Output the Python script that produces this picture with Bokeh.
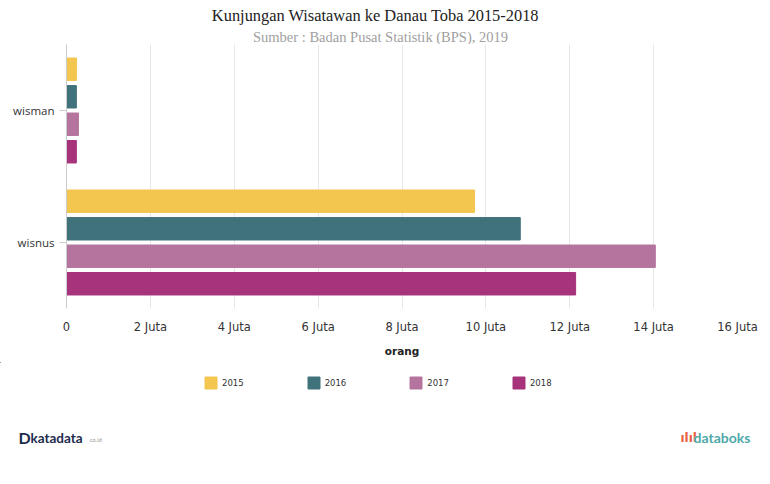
from bokeh.plotting import figure
from bokeh.layouts import column
from bokeh.models import (FactorRange, Range1d, Legend, LegendItem, FixedTicker,
                          ColumnDataSource)
from bokeh.transform import dodge
from bokeh.core.properties import value
from bokeh.embed import file_html
from bokeh.resources import INLINE

# ---- data ----
categories = ["wisman", "wisnus"]
years = ["2015", "2016", "2017", "2018"]
wisman = [240000, 235000, 285000, 235000]
wisnus = [9730000, 10820000, 14040000, 12140000]
colors = ["#F2C64F", "#40727C", "#B5749E", "#A6337B"]
tick_values = [0, 2000000, 4000000, 6000000, 8000000, 10000000, 12000000, 14000000, 16000000]
tick_labels = ["0", "2 Juta", "4 Juta", "6 Juta", "8 Juta", "10 Juta", "12 Juta", "14 Juta", "16 Juta"]
title_text = "Kunjungan Wisatawan ke Danau Toba 2015-2018"
subtitle_text = "Sumber : Badan Pusat Statistik (BPS), 2019"
x_label = "orang"

W = 762

def blank(h):
    f = figure(width=W, height=h, x_range=Range1d(0, W), y_range=Range1d(h, 0),
               output_backend="svg", toolbar_location=None, title=None,
               x_axis_location=None, y_axis_location=None,
               min_border=0, min_border_left=0, min_border_right=0,
               min_border_top=0, min_border_bottom=0)
    f.frame_align = False
    f.grid.visible = False
    f.outline_line_color = None
    f.background_fill_color = "white"
    f.border_fill_color = "white"
    return f

# ---- header ----
head = blank(44)
head.text(x=[375], y=[15], text=[title_text], text_align="center", text_baseline="middle",
          text_font=value("Liberation Serif"), text_font_size=value("16.4px"), text_color="#222222")
head.text(x=[380], y=[36], text=[subtitle_text], text_align="center", text_baseline="middle",
          text_font=value("Liberation Serif"), text_font_size=value("14.5px"), text_color="#a0a0a0")

# ---- main chart ----
MB = 54
p = figure(width=W, height=264 + MB,
           y_range=FactorRange(factors=["wisnus", "wisman"]),
           x_range=Range1d(0, 16000000),
           output_backend="svg", toolbar_location=None, title=None,
           min_border_left=66, min_border_right=25, min_border_top=0, min_border_bottom=MB)
p.outline_line_color = None
p.background_fill_color = "white"
p.border_fill_color = "white"

offsets = [0.3125, 0.104, -0.104, -0.3125]
for i, yr in enumerate(years):
    src = ColumnDataSource(dict(cat=categories, val=[wisman[i], wisnus[i]]))
    p.hbar(y=dodge("cat", offsets[i], range=p.y_range), left=0, right="val",
           height=0.17, source=src, fill_color=colors[i], line_color=colors[i])

p.xaxis.ticker = FixedTicker(ticks=tick_values)
p.xaxis.major_label_overrides = {v: l for v, l in zip(tick_values, tick_labels)}
p.xaxis.axis_line_color = None
p.xaxis.major_tick_line_color = None
p.xaxis.major_tick_out = 0
p.xaxis.major_tick_in = 0
p.xaxis.minor_tick_line_color = None
p.xaxis.major_label_standoff = 11
p.xaxis.major_label_text_font = "DejaVu Sans"
p.xaxis.major_label_text_font_size = "11.5px"
p.xaxis.major_label_text_color = "#333333"
p.xaxis.axis_label = x_label
p.xaxis.axis_label_text_font = "DejaVu Sans"
p.xaxis.axis_label_text_font_size = "10.5px"
p.xaxis.axis_label_text_font_style = "bold"
p.xaxis.axis_label_text_color = "#222222"
p.xaxis.axis_label_standoff = 8

p.yaxis.axis_line_color = "#cccccc"
p.yaxis.major_tick_line_color = "#cccccc"
p.yaxis.major_tick_out = 7
p.yaxis.major_tick_in = 0
p.yaxis.major_label_standoff = 5
p.yaxis.major_label_text_font = "Open Sans"
p.yaxis.major_label_text_font_size = "11.5px"
p.yaxis.major_label_text_color = "#333333"

p.ygrid.grid_line_color = None
p.xgrid.grid_line_color = "#e6e6e6"

# ---- footer: legend + logos ----
FH = 470 - (44 + 264 + MB)
foot = blank(FH)
items = []
for i, yr in enumerate(years):
    # legend swatch proxy (kept well outside the visible range)
    proxy = ColumnDataSource(dict(y=[-500], left=[-600], right=[-500]))
    r = foot.hbar(y="y", left="left", right="right", height=1, source=proxy,
                  fill_color=colors[i], line_color=colors[i])
    items.append(LegendItem(label=yr, renderers=[r]))
legend = Legend(items=items, orientation="horizontal", location=(203, FH - 28),
                glyph_width=15, glyph_height=15, label_height=15, label_standoff=4,
                spacing=62, padding=0, margin=0, border_line_color=None,
                background_fill_alpha=0, label_text_font="DejaVu Sans",
                label_text_font_size="8.5px", label_text_color="#333333")
foot.add_layout(legend, "center")

LY = 437 - (44 + 264 + MB)
foot.text(x=[18], y=[LY], text=["D"], text_baseline="middle",
          text_font=value("Lato"), text_font_style="bold", text_font_size=value("16px"),
          text_color="#1e2b4d")
foot.text(x=[30], y=[LY], text=["katadata"], text_baseline="middle",
          text_font=value("Lato"), text_font_style="bold", text_font_size=value("13.5px"),
          text_color="#1e2b4d")
foot.text(x=[89], y=[LY + 2], text=["co.id"], text_baseline="middle",
          text_font=value("Lato"), text_font_size=value("6px"), text_color="#999999")
foot.text(x=[680], y=[LY], text=["ılıl"], text_baseline="middle",
          text_font=value("DejaVu Sans"), text_font_style="bold", text_font_size=value("12px"),
          text_color="#e9603f")
foot.text(x=[693], y=[LY], text=["databoks"], text_baseline="middle",
          text_font=value("Lato"), text_font_style="bold", text_font_size=value("14px"),
          text_color="#4fa9aa")

layout = column(head, p, foot, spacing=0)
open("out.html", "w").write(file_html(layout, INLINE))
